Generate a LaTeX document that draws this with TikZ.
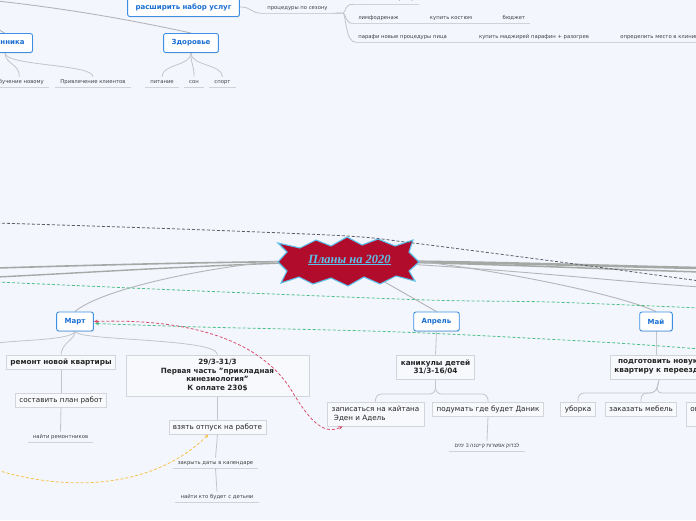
\documentclass[tikz,border=0pt]{standalone}
\usepackage{fontspec}
\setmainfont{DejaVu Sans}
\newfontfamily\titlefont{Liberation Serif}
\newfontfamily\hebfont[Script=Hebrew]{Liberation Sans}
\TeXXeTstate=1
\usetikzlibrary{arrows.meta,shadows}
\definecolor{bgc}{HTML}{F3F6FD}
\definecolor{topicB}{HTML}{3D8FE3}
\definecolor{topicT}{HTML}{1A6FD2}
\definecolor{boxB}{HTML}{D2D5DB}
\definecolor{boxF}{HTML}{F8F9FC}
\definecolor{ulc}{HTML}{D0D2D6}
\definecolor{cgray}{HTML}{C3C5C9}
\definecolor{mgray}{HTML}{B3B5B8}
\definecolor{tgray}{HTML}{A6A8A6}
\definecolor{crim}{HTML}{B20C2C}
\definecolor{starE}{HTML}{5CC2EC}
\definecolor{greenD}{HTML}{4DBF86}
\definecolor{redD}{HTML}{D9506E}
\definecolor{yelD}{HTML}{F7C24A}
\definecolor{darkD}{HTML}{5A5E68}
\pgfdeclarelayer{bg}
\pgfdeclarelayer{back}
\pgfsetlayers{bg,back,main}
\begin{document}
\begin{tikzpicture}[x=1pt,y=-1pt,
  topic/.style={draw=topicB, fill=white, line width=0.9pt, rounded corners=2.2pt, text=topicT,
    font=\fontsize{7}{8}\selectfont\bfseries, inner xsep=8pt, inner ysep=0pt, minimum height=19pt,
    drop shadow={shadow xshift=0.5pt, shadow yshift=-0.8pt, opacity=0.25}},
  subb/.style={draw=boxB, fill=boxF, line width=0.8pt, text=black!85,
    font=\fontsize{7.3}{8.6}\selectfont\bfseries, inner xsep=4pt, inner ysep=3pt, align=center, minimum height=14pt},
  subr/.style={subb, font=\fontsize{7.2}{8.6}\selectfont},
  lab/.style={font=\fontsize{5.3}{6.2}\selectfont, text=black!75, inner xsep=5pt, inner ysep=2.5pt,
    text height=4pt, text depth=1.2pt},
  uline/.style={draw=ulc, line width=0.8pt},
  conn/.style={draw=cgray, line width=0.8pt},
  mconn/.style={draw=mgray, line width=0.9pt},
  thickc/.style={draw=tgray, line width=2.2pt},
  dsh/.style={dashed, dash pattern=on 3pt off 2pt, line width=0.8pt}
]
\useasboundingbox (0,0) rectangle (696,520);
\begin{pgfonlayer}{bg}
\fill[bgc] (0,0) rectangle (696,520);
\end{pgfonlayer}

% ---------- top area ----------
\node[topic] (rash) at (183.5,7) {расширить набор услуг};
\node[topic] (zdor) at (191,43) {Здоровье};
\node[topic, minimum width=35pt] (nnik) at (12.5,43) {нника};

\node[lab, anchor=east] (obuch) at (49,82) {Обучение новому};
\node[lab] (privl) at (93,82) {Привлечение клиентов};
\node[lab] (pit) at (162,82) {питание};
\node[lab] (son) at (194,82) {сон};
\node[lab] (sport) at (222.5,82) {спорт};

\node[lab] (proc) at (297.5,8) {процедуры по сезону};
\coordinate (pj) at (343,13);
\node[lab] (vann) at (386,-1) {соль + ванны (СПА)};
\node[lab] (limf) at (378.5,18) {лимфодренаж};
\node[lab] (kost) at (451,18) {купить костюм};
\node[lab] (budj) at (514,18) {бюджет};
\node[lab, inner xsep=2pt] (paraf) at (369,37) {парафи};
\node[lab, inner xsep=1pt] (novye) at (414,37) {новые процедуры пица};
\node[lab] (kupm) at (534,37) {купить маджирей парафин + разогрев};
\node[lab] (opred) at (661,37) {определить место в клинике};

% ---------- center ----------
\node[minimum width=136pt, minimum height=44pt, inner sep=0pt] (title) at (348,261) {};
\fill[crim, draw=starE, line width=1.1pt, line join=miter]
  (278,243) -- (300,248) -- (316,240) -- (331,246) -- (347,237) -- (362,245) -- (378,239) -- (395,246) -- (413,240)
  -- (409,252) -- (419,262) -- (409,271) -- (415,281)
  -- (396,276) -- (380,284) -- (364,277) -- (348,286) -- (331,278) -- (313,284) -- (299,277) -- (281,283)
  -- (287,271) -- (278,262) -- (287,252) -- cycle;
\node[text=starE, font=\titlefont\fontsize{12.5}{14}\selectfont\bfseries\itshape, inner sep=0pt] (ttext) at (349.5,260) {\underline{Планы на 2020}};

% ---------- months ----------
\node[topic] (mart) at (75,321.5) {Март};
\node[topic] (apr) at (436.5,321.5) {Апрель};
\node[topic] (may) at (656,321.5) {Май};

% Март branch
\node[subb] (remont) at (61,362) {ремонт новой квартиры};
\node[subb, minimum width=183pt, minimum height=41pt, font=\fontsize{7.2}{8.6}\selectfont\bfseries] (box29) at (217.5,375.5)
  {29/3-31/3\\Первая часть "прикладная\\кинезиология"\\К оплате 230\$};
\node[subr] (sostav) at (61,400) {составить план работ};
\node[lab] (naiti) at (60.5,437) {найти ремонтников};
\node[subr] (vzyat) at (217.5,427) {взять отпуск на работе};
\node[lab] (zakr) at (215.5,463) {закрыть даты в календаре};
\node[lab] (naiti2) at (217,497) {найти кто будет с детьми};

% Апрель branch
\node[subb, minimum height=24pt] (kanik) at (435.5,367) {каникулы детей\\31/3-16/04};
\node[subr, align=left, minimum height=24pt, minimum width=97pt] (zap) at (375.5,414) {записаться на кайтана\\\ Эден и Адель};
\node[subr] (podum) at (488,409) {подумать где будет Даник};
\node[lab] (heb) at (487,446) {\hebfont\beginR לבדוק אפשרות קייטנה 3 ימים\endR};

% Май branch
\node[subb, minimum height=24pt] (podg) at (659,367) {подготовить новую\\квартиру к переезду};
\node[subr] (uborka) at (578,409) {уборка};
\node[subr] (mebel) at (641,409) {заказать мебель};
\node[subr, minimum height=24pt] (oplat) at (708,414) {оплатить\\вывоз};

% off-screen ends
\coordinate (offA) at (-3,1);
\coordinate (offB) at (-6,27);
\coordinate (offM) at (-3,343);
\coordinate (offL1) at (-3,268);
\coordinate (offL2) at (-3,277);
\coordinate (offR1) at (700,268);
\coordinate (offR2) at (700,272);
\coordinate (offR3) at (700,287);
\coordinate (dkA) at (-3,223);
\coordinate (dkB) at (700,281);
\coordinate (gA) at (-3,282);
\coordinate (gB) at (700,308);
\coordinate (gC) at (700,349);
\coordinate (yA) at (-3,470);

\begin{pgfonlayer}{back}
% underlines
\foreach \n in {obuch,privl,pit,son,sport,proc,vann,limf,kost,budj,paraf,novye,kupm,opred,naiti,zakr,naiti2,heb}
  \draw[uline] (\n.south west) -- (\n.south east);
% top connectors
\draw[mconn] (offA) .. controls (80,10) and (150,24) .. (zdor.north);
\draw[mconn] (offB) -- ([xshift=-8pt]nnik.north);
\draw[conn] ([xshift=-7.5pt]nnik.south) .. controls (5,64) and (20,64) .. (obuch.north);
\draw[conn] ([xshift=-7.5pt]nnik.south) .. controls (5,66) and (93,64) .. (privl.north);
\draw[conn] (zdor.south) .. controls (191,66) and (162,64) .. (pit.north);
\draw[conn] (zdor.south) .. controls (191,66) and (194,64) .. (son.north);
\draw[conn] (zdor.south) .. controls (191,66) and (222,64) .. (sport.north);
\draw[conn] (rash.east) .. controls (253,7) and (249,13) .. (proc.south west);
\draw[mconn] (proc.south east) -- (pj);
\draw[conn] (pj) .. controls (346,13) and (344,4) .. (vann.south west);
\draw[conn] (pj) .. controls (346,13) and (345,24) .. (limf.south west);
\draw[conn] (pj) .. controls (346,13) and (345,43) .. (paraf.south west);
\draw[uline] (limf.south east) -- (kost.south west);
\draw[uline] (kost.south east) -- (budj.south west);
\draw[uline] (paraf.south east) -- (novye.south west);
\draw[uline] (novye.south east) -- (kupm.south west);
\draw[uline] (kupm.south east) -- (opred.south west);
% center connectors
\draw[thickc, line width=1.6pt] (title.center) .. controls (200,262) and (100,265) .. (offL1);
\draw[thickc, line width=1.4pt] (title.center) .. controls (200,265) and (100,272) .. (offL2);
\draw[thickc, line width=2.6pt] (title.center) .. controls (500,262) and (600,266) .. (offR1);
\draw[thickc, line width=1.5pt] (title.center) .. controls (500,264) and (600,269) .. (offR2);
\draw[mconn] (title.center) .. controls (500,268) and (600,280) .. (offR3);
\draw[mconn] (title.west) .. controls (200,268) and (100,290) .. (mart.north);
\draw[mconn] (title.center) -- (apr.north);
\draw[mconn] (title.east) .. controls (510,272) and (620,295) .. (may.north);
% month children
\draw[conn] (mart.south) .. controls (75,340) and (62,342) .. (remont.north);
\draw[conn] (mart.south) .. controls (78,341) and (217,338) .. (box29.north);
\draw[conn] (mart.south) .. controls (72,340) and (20,340) .. (offM);
\draw[conn] (remont.south) -- (sostav.north);
\draw[conn] (sostav.south) -- (naiti.north);
\draw[conn] (box29.south) -- (vzyat.north);
\draw[conn] (vzyat.south) -- (zakr.north);
\draw[conn] (zakr.south) -- (naiti2.north);
\draw[conn] (apr.south) -- (kanik.north);
\draw[conn, rounded corners=6pt] (kanik.south) -- (435.5,394) -| (zap.north);
\draw[conn, rounded corners=6pt] (kanik.south) -- (435.5,394) -| (podum.north);
\draw[conn] (podum.south) -- (heb.north);
\draw[conn] (may.south) -- (656,355);
\draw[conn, rounded corners=6pt] (podg.south) -- (656,393) -| (uborka.north);
\draw[conn, rounded corners=6pt] (podg.south) -- (656,393) -| (mebel.north);
\draw[conn, rounded corners=6pt] (podg.south) -- (656,393) -| (oplat.north);
\end{pgfonlayer}

% relationship lines (on top)
\draw[dsh, darkD] plot[smooth] coordinates {(dkA) (180,229) (347,236) (413,243) (560,262) (dkB)};
\draw[dsh, greenD] plot[smooth] coordinates {(gA) (200,291) (427,300) (550,302) (gB)};
\draw[dsh, greenD, -{Stealth[length=4pt,width=3.5pt]}] plot[smooth] coordinates {(gC) (600,342) (400,332) (200,327) (95,323.5)};
\draw[dsh, redD, {Stealth[length=4pt,width=3.5pt]}-{Stealth[length=4pt,width=3.5pt]}]
  (mart.east) .. controls (200,318) and (262,345) .. (290,388) .. controls (308,418) and (322,436) .. ([xshift=16pt]zap.south west);
\draw[dsh, yelD, -{Stealth[length=4pt,width=3.5pt]}] (yA) .. controls (60,490) and (150,492) .. ([xshift=-9pt]vzyat.south);
\end{tikzpicture}
\end{document}
